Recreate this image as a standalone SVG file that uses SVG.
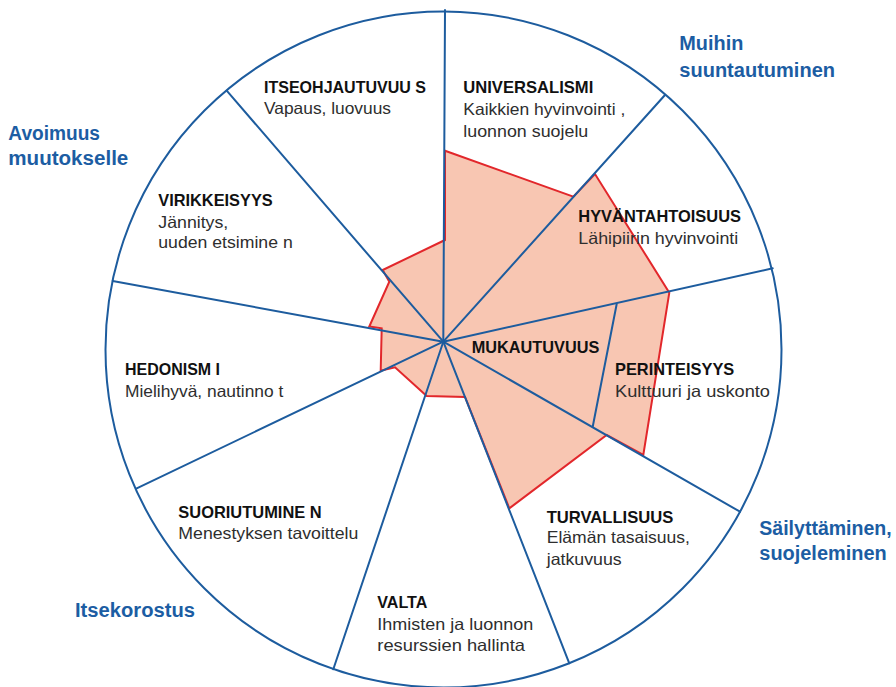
<svg xmlns="http://www.w3.org/2000/svg" width="896" height="687" viewBox="0 0 896 687">
  <style>
    .wheel { fill: none; stroke: #1d5c9e; stroke-width: 2; stroke-linecap: round; }
    .profile { fill: #f8c6b2; stroke: #e2272b; stroke-width: 2; stroke-linejoin: miter; }
    .title { font-family: "Liberation Sans", Arial, sans-serif; font-size: 16.5px; font-weight: bold; fill: #111; }
    .sub { font-family: "Liberation Sans", Arial, sans-serif; font-size: 16.5px; fill: #2e2e2e; }
    .group { font-family: "Liberation Sans", Arial, sans-serif; font-size: 20px; font-weight: bold; fill: #1c5da3; }
  </style>
  <rect width="896" height="687" fill="#fff"/>

  <!-- value profile -->
  <polygon class="profile" points="445,240 445,150.7 573.3,196.7 595,174 669.3,292.7 643.3,455 606.7,435 509.3,508.3 465,397 426.7,396 395,367.3 380.7,370.7 381.7,328.3 369.3,326.5 389.3,281.7 382.7,270"/>

  <!-- outer ring and sector dividers -->
  <g id="connectors" class="wheel">
    <circle cx="443.5" cy="349.5" r="338"/>
    <line x1="443.3" y1="341.7" x2="445" y2="10"/>
    <line x1="443.3" y1="341.7" x2="665" y2="95"/>
    <line x1="443.3" y1="341.7" x2="772.7" y2="268.3"/>
    <line x1="443.3" y1="341.7" x2="740" y2="511.7"/>
    <line x1="443.3" y1="341.7" x2="569.3" y2="663.3"/>
    <line x1="443.3" y1="341.7" x2="333.3" y2="669.3"/>
    <line x1="443.3" y1="341.7" x2="136.7" y2="488.3"/>
    <line x1="443.3" y1="341.7" x2="112.7" y2="281"/>
    <line x1="443.3" y1="341.7" x2="226.7" y2="90.7"/>
    <line x1="616.7" y1="304" x2="592.7" y2="426.7"/>
  </g>

  <g id="itseohjautuvuus">
    <text class="title" x="264" y="92.5" textLength="162" lengthAdjust="spacingAndGlyphs">ITSEOHJAUTUVUU S</text>
    <text class="sub" x="264" y="114.3" textLength="127" lengthAdjust="spacingAndGlyphs">Vapaus, luovuus</text>
  </g>
  <g id="universalismi">
    <text class="title" x="463.3" y="93" textLength="130" lengthAdjust="spacingAndGlyphs">UNIVERSALISMI</text>
    <text class="sub" x="463.3" y="115" textLength="162" lengthAdjust="spacingAndGlyphs">Kaikkien hyvinvointi ,</text>
    <text class="sub" x="463.3" y="136.7" textLength="125" lengthAdjust="spacingAndGlyphs">luonnon suojelu</text>
  </g>
  <g id="hyvantahtoisuus">
    <text class="title" x="578.3" y="221.7" textLength="162.7" lengthAdjust="spacingAndGlyphs">HYVÄNTAHTOISUUS</text>
    <text class="sub" x="578.3" y="244.4" textLength="160" lengthAdjust="spacingAndGlyphs">Lähipiirin hyvinvointi</text>
  </g>
  <g id="mukautuvuus">
    <text class="title" x="471.7" y="352.7" textLength="127.6" lengthAdjust="spacingAndGlyphs">MUKAUTUVUUS</text>
  </g>
  <g id="perinteisyys">
    <text class="title" x="615" y="375" textLength="119.3" lengthAdjust="spacingAndGlyphs">PERINTEISYYS</text>
    <text class="sub" x="615" y="396.7" textLength="155" lengthAdjust="spacingAndGlyphs">Kulttuuri ja uskonto</text>
  </g>
  <g id="turvallisuus">
    <text class="title" x="546.7" y="523.3" textLength="126.6" lengthAdjust="spacingAndGlyphs">TURVALLISUUS</text>
    <text class="sub" x="546.7" y="543.3" textLength="143.3" lengthAdjust="spacingAndGlyphs">Elämän tasaisuus,</text>
    <text class="sub" x="546.7" y="565" textLength="75" lengthAdjust="spacingAndGlyphs">jatkuvuus</text>
  </g>
  <g id="valta">
    <text class="title" x="377.3" y="608.3" textLength="50" lengthAdjust="spacingAndGlyphs">VALTA</text>
    <text class="sub" x="377.3" y="630" textLength="156" lengthAdjust="spacingAndGlyphs">Ihmisten ja luonnon</text>
    <text class="sub" x="377.3" y="650.7" textLength="147.7" lengthAdjust="spacingAndGlyphs">resurssien hallinta</text>
  </g>
  <g id="suoriutuminen">
    <text class="title" x="178.3" y="518.3" textLength="143.4" lengthAdjust="spacingAndGlyphs">SUORIUTUMINE N</text>
    <text class="sub" x="178.3" y="539.3" textLength="180" lengthAdjust="spacingAndGlyphs">Menestyksen tavoittelu</text>
  </g>
  <g id="hedonismi">
    <text class="title" x="125" y="375" textLength="95" lengthAdjust="spacingAndGlyphs">HEDONISM I</text>
    <text class="sub" x="125" y="396.7" textLength="158.3" lengthAdjust="spacingAndGlyphs">Mielihyvä, nautinno t</text>
  </g>
  <g id="virikkeisyys">
    <text class="title" x="158.3" y="205.7" textLength="114.4" lengthAdjust="spacingAndGlyphs">VIRIKKEISYYS</text>
    <text class="sub" x="158.3" y="228.3" textLength="70" lengthAdjust="spacingAndGlyphs">Jännitys,</text>
    <text class="sub" x="158.3" y="248.3" textLength="134.4" lengthAdjust="spacingAndGlyphs">uuden etsimine n</text>
  </g>

  <!-- higher-order value groups -->
  <g id="avoimuus-muutokselle">
    <text class="group" x="8.3" y="140" textLength="91.7" lengthAdjust="spacingAndGlyphs">Avoimuus</text>
    <text class="group" x="8.3" y="165" textLength="120" lengthAdjust="spacingAndGlyphs">muutokselle</text>
  </g>
  <g id="muihin-suuntautuminen">
    <text class="group" x="679.3" y="50" textLength="64" lengthAdjust="spacingAndGlyphs">Muihin</text>
    <text class="group" x="679.3" y="76.7" textLength="155.7" lengthAdjust="spacingAndGlyphs">suuntautuminen</text>
  </g>
  <g id="itsekorostus">
    <text class="group" x="75" y="616.7" textLength="120" lengthAdjust="spacingAndGlyphs">Itsekorostus</text>
  </g>
  <g id="sailyttaminen">
    <text class="group" x="759.3" y="535" textLength="132.4" lengthAdjust="spacingAndGlyphs">Säilyttäminen,</text>
    <text class="group" x="759.3" y="560" textLength="127.4" lengthAdjust="spacingAndGlyphs">suojeleminen</text>
  </g>
</svg>
